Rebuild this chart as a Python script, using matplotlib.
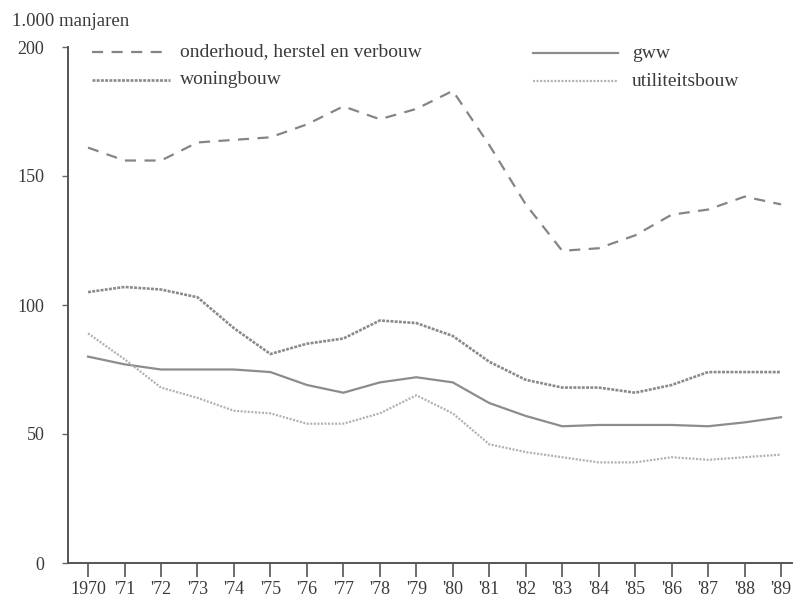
import matplotlib
matplotlib.use("Agg")
import matplotlib.pyplot as plt
from matplotlib.lines import Line2D

years = list(range(1970, 1990))
tick_labels = ["1970", "'71", "'72", "'73", "'74", "'75", "'76", "'77", "'78", "'79",
               "'80", "'81", "'82", "'83", "'84", "'85", "'86", "'87", "'88", "'89"]

onderhoud = [161, 156, 156, 163, 164, 165, 170, 177, 172, 176,
             183, 162, 139, 121, 122, 127, 135, 137, 142, 139]
woningbouw = [105, 107, 106, 103, 91, 81, 85, 87, 94, 93,
              88, 78, 71, 68, 68, 66, 69, 74, 74, 74]
gww = [80, 77, 75, 75, 75, 74, 69, 66, 70, 72,
       70, 62, 57, 53, 53.5, 53.5, 53.5, 53, 54.5, 56.5]
utiliteitsbouw = [89, 79, 68, 64, 59, 58, 54, 54, 58, 65,
                  58, 46, 43, 41, 39, 39, 41, 40, 41, 42]

names = ["onderhoud, herstel en verbouw", "woningbouw", "gww", "utiliteitsbouw"]

W, H = 799, 597
fig = plt.figure(figsize=(W / 100, H / 100), dpi=100)
plt.rcParams['font.family'] = ['Liberation Serif', 'DejaVu Serif']
txt = '#3a3a3a'

ax = fig.add_axes([68 / W, 34 / H, 724 / W, 516 / H])

styles = {
    "onderhoud": dict(color='#858585', lw=1.6, dashes=(5, 3.8)),
    "woningbouw": dict(color='#8a8a8a', lw=1.9, dashes=(1.1, 0.5)),
    "gww": dict(color='#8c8c8c', lw=1.6),
    "util": dict(color='#b0b0b0', lw=1.6, dashes=(0.9, 0.7)),
}

ax.plot(years, onderhoud, **styles["onderhoud"])
ax.plot(years, woningbouw, **styles["woningbouw"])
ax.plot(years, gww, **styles["gww"])
ax.plot(years, utiliteitsbouw, **styles["util"])

ax.set_xlim(1969.45, 1989.3)
ax.set_ylim(0, 200)
ax.set_xticks(years)
ax.set_xticklabels(tick_labels, fontsize=13, color=txt)
ax.set_yticks([0, 50, 100, 150, 200])
ax.set_yticklabels(["0", "50", "100", "150", "200"], fontsize=13, color=txt)
ax.tick_params(axis='x', direction='out', length=10, width=1.2, color='#555555', pad=3)
ax.tick_params(axis='y', direction='out', length=4, width=1.0, color='#666666', pad=13)
for s in ['top', 'right']:
    ax.spines[s].set_visible(False)
for s in ['left', 'bottom']:
    ax.spines[s].set_color('#555555')
    ax.spines[s].set_linewidth(1.4)

fig.text(12 / W, 1 - 22 / H, "1.000 manjaren", fontsize=13.5, color=txt, va='center', ha='left')

# legend
def leg(x0, x1, y, key, label, tx):
    fy = 1 - y / H
    fig.add_artist(Line2D([x0 / W, x1 / W], [fy, fy], transform=fig.transFigure, **styles[key]))
    fig.text(tx / W, fy, label, fontsize=14, color=txt, va='center', ha='left')

leg(92, 170, 52, "onderhoud", names[0], 180)
leg(92, 170, 80, "woningbouw", names[1], 180)
leg(533, 618, 53, "gww", names[2], 632)
leg(533, 618, 81, "util", names[3], 632)

fig.savefig("out.png", dpi=100)
